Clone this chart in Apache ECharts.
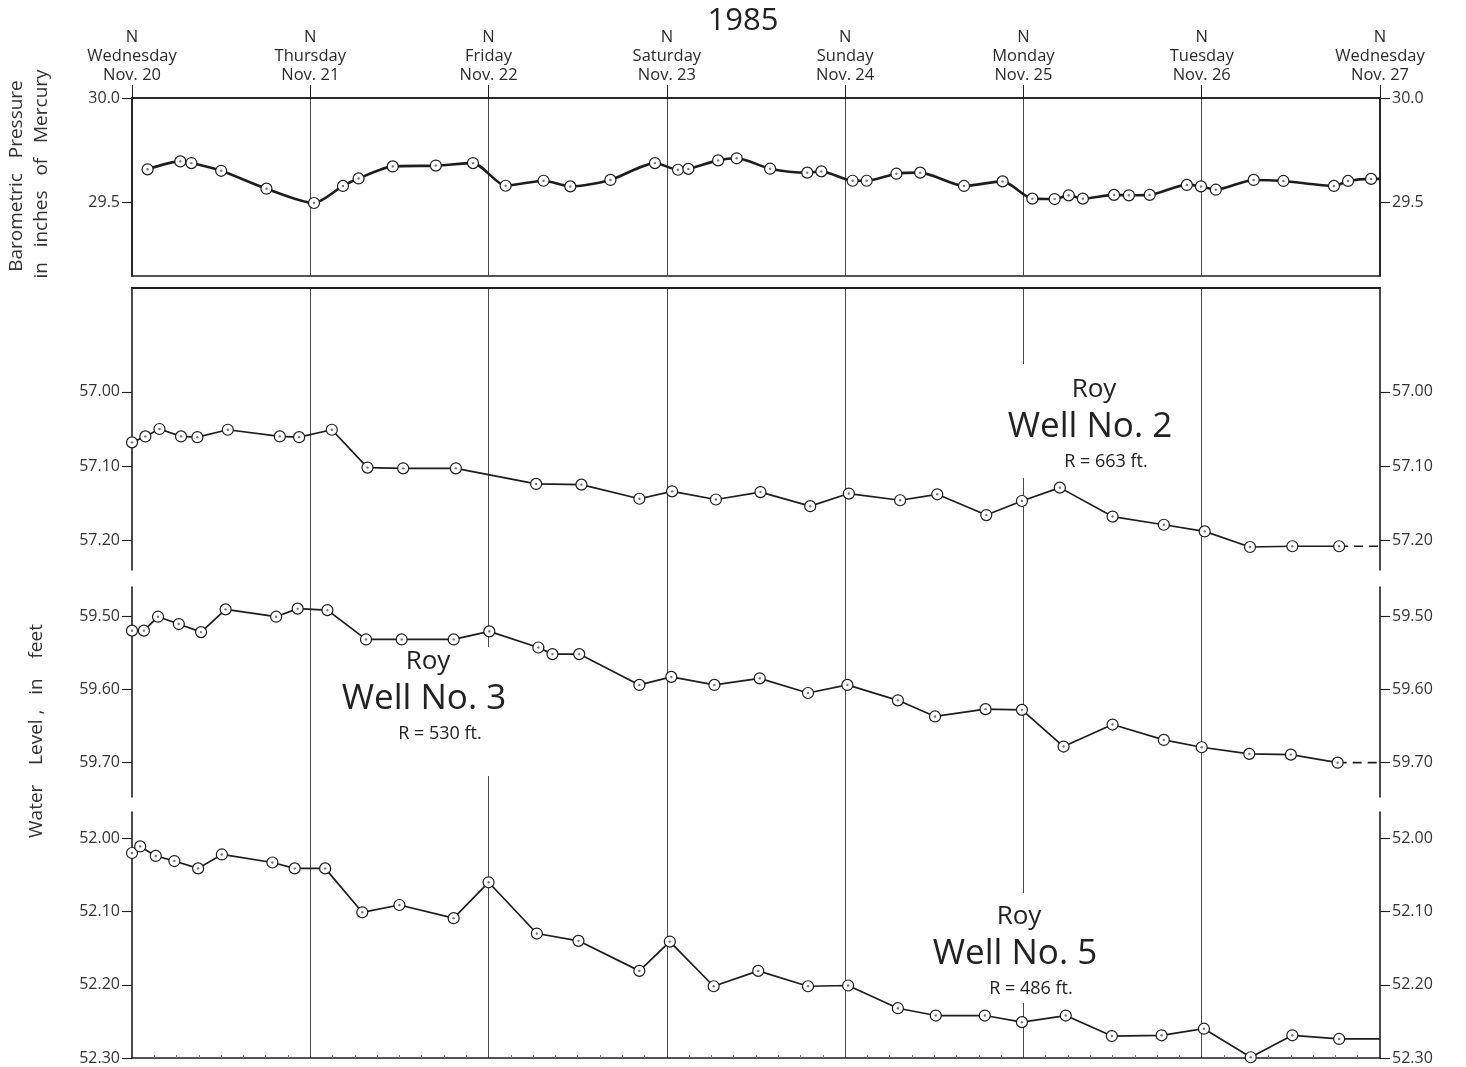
<!DOCTYPE html>
<html>
<head>
<meta charset="utf-8">
<script src="https://cdn.jsdelivr.net/npm/echarts@6/dist/echarts.min.js"></script>
<style>
  html, body { margin: 0; padding: 0; background: #fff; }
  #chart { width: 1466px; height: 1067px; }
</style>
</head>
<body>
<div id="chart"></div>
<script>
// Time is measured in hours after noon, Wednesday Nov. 20, 1985.
const dayNames = ['Wednesday', 'Thursday', 'Friday', 'Saturday', 'Sunday', 'Monday', 'Tuesday', 'Wednesday'];
const dayDates = ['Nov. 20', 'Nov. 21', 'Nov. 22', 'Nov. 23', 'Nov. 24', 'Nov. 25', 'Nov. 26', 'Nov. 27'];

// Barometric pressure, inches of mercury
const baroHours = [2.1, 6.5, 8.0, 12.0, 18.1, 24.5, 28.4, 30.5, 35.1, 40.9, 45.9, 50.3, 55.4, 59.0, 64.4,
  70.4, 73.5, 74.9, 78.9, 81.4, 85.9, 90.9, 92.8, 97.0, 98.9, 102.9, 106.1, 112.0, 117.2, 121.2, 124.2,
  126.1, 128.0, 132.2, 134.2, 137.0, 142.0, 143.9, 145.9, 151.0, 155.0, 161.8, 163.7, 166.8];
const baroValues = [29.657, 29.695, 29.687, 29.650, 29.564, 29.495, 29.577, 29.613, 29.671, 29.675, 29.687,
  29.578, 29.602, 29.575, 29.606, 29.687, 29.655, 29.659, 29.700, 29.710, 29.660, 29.641, 29.647, 29.602,
  29.602, 29.636, 29.641, 29.577, 29.599, 29.516, 29.514, 29.532, 29.516, 29.534, 29.532, 29.534, 29.582,
  29.575, 29.559, 29.606, 29.601, 29.577, 29.601, 29.611];
const baroTicks = [29.5, 30.0];

// Roy Well No. 2, depth to water in feet
const well2Hours = [0, 1.8, 3.7, 6.6, 8.8, 12.9, 19.9, 22.5, 26.9, 31.7, 36.5, 43.6, 54.4, 60.5, 68.3, 72.7,
  78.6, 84.6, 91.3, 96.5, 103.4, 108.4, 115.0, 119.8, 124.9, 132.0, 138.9, 144.4, 150.5, 156.2, 162.5];
const well2Values = [57.068, 57.060, 57.050, 57.060, 57.061, 57.051, 57.060, 57.061, 57.051, 57.102, 57.103,
  57.103, 57.124, 57.125, 57.144, 57.134, 57.145, 57.135, 57.154, 57.137, 57.146, 57.138, 57.166, 57.147,
  57.129, 57.168, 57.179, 57.188, 57.209, 57.208, 57.208];
const well2Ticks = [57.00, 57.10, 57.20];

// Roy Well No. 3
const well3Hours = [0, 1.6, 3.5, 6.3, 9.3, 12.6, 19.4, 22.3, 26.3, 31.5, 36.3, 43.3, 48.1, 54.7, 56.6, 60.2,
  68.3, 72.6, 78.4, 84.5, 91.0, 96.3, 103.1, 108.1, 114.9, 119.8, 125.4, 132.0, 138.9, 144.0, 150.4, 156.0, 162.3];
const well3Values = [59.520, 59.520, 59.501, 59.511, 59.522, 59.491, 59.501, 59.490, 59.492, 59.532, 59.532,
  59.532, 59.521, 59.543, 59.552, 59.552, 59.594, 59.583, 59.594, 59.585, 59.605, 59.594, 59.615, 59.637,
  59.627, 59.628, 59.678, 59.648, 59.669, 59.679, 59.688, 59.689, 59.700];
const well3Ticks = [59.50, 59.60, 59.70];

// Roy Well No. 5
const well5Hours = [0, 1.1, 3.2, 5.7, 8.9, 12.1, 18.9, 21.9, 26.0, 31.0, 36.0, 43.3, 48.0, 54.5, 60.1, 68.3,
  72.4, 78.3, 84.3, 91.0, 96.4, 103.1, 108.2, 114.8, 119.8, 125.7, 131.9, 138.6, 144.3, 150.6, 156.2, 162.5];
const well5Values = [52.020, 52.011, 52.024, 52.031, 52.041, 52.022, 52.033, 52.041, 52.041, 52.101, 52.091,
  52.109, 52.060, 52.130, 52.140, 52.181, 52.141, 52.202, 52.181, 52.202, 52.201, 52.232, 52.242, 52.242,
  52.251, 52.242, 52.270, 52.269, 52.260, 52.299, 52.269, 52.274];
const well5Ticks = [52.00, 52.10, 52.20, 52.30];

const END_HOUR = 168;
const FONT = '"Open Sans", "DejaVu Sans", sans-serif';
const INK = '#1d1d1d';
const GRID_INK = '#4a4a4a';
const PLOT_LEFT = 132, PLOT_RIGHT = 86;
const HOUR_PX = (1466 - PLOT_LEFT - PLOT_RIGHT) / END_HOUR;

const pairs = (hs, vs) => hs.map((h, i) => [h, vs[i]]);

const grids = [
  { left: PLOT_LEFT, right: PLOT_RIGHT, top: 98, height: 178, show: true, borderColor: INK, borderWidth: 1.6, backgroundColor: 'transparent' },
  { left: PLOT_LEFT, right: PLOT_RIGHT, top: 288, height: 282 },
  { left: PLOT_LEFT, right: PLOT_RIGHT, top: 587, height: 210 },
  { left: PLOT_LEFT, right: PLOT_RIGHT, top: 812, height: 246 },
  // day lines running through the three well panels
  { left: PLOT_LEFT + 24 * HOUR_PX, right: PLOT_RIGHT + 24 * HOUR_PX, top: 288, height: 770 }
];

function hiddenX(gi, extra) {
  return Object.assign({
    type: 'value', gridIndex: gi, min: 0, max: END_HOUR, interval: 24,
    axisLine: { show: false }, axisTick: { show: false }, axisLabel: { show: false },
    splitLine: { show: false }
  }, extra || {});
}

const xAxes = [
  {
    type: 'value', gridIndex: 0, position: 'top', min: 0, max: END_HOUR, interval: 24,
    axisLine: { show: true, lineStyle: { color: INK, width: 1.6 } },
    axisTick: { show: true, length: 13, lineStyle: { color: INK, width: 1 } },
    axisLabel: {
      show: true, margin: 13, showMinLabel: true, showMaxLabel: true, hideOverlap: false,
      fontFamily: FONT, fontSize: 16.5, color: '#2a2a2a', lineHeight: 19, align: 'center',
      formatter: v => { const i = Math.round(v / 24); return 'N\n' + dayNames[i] + '\n' + dayDates[i]; }
    },
    splitLine: { show: true, lineStyle: { color: GRID_INK, width: 1 } }
  },
  hiddenX(1, { position: 'top', axisLine: { show: true, lineStyle: { color: INK, width: 1.8 } } }),
  hiddenX(2),
  hiddenX(3, {
    position: 'bottom',
    axisLine: { show: true, lineStyle: { color: INK, width: 1.6 } },
    axisTick: { show: false, inside: true },
    minorTick: { show: true, splitNumber: 8, length: 3, lineStyle: { color: '#777', width: 1 } }
  }),
  {
    type: 'value', gridIndex: 4, min: 24, max: 144, interval: 24,
    axisLine: { show: false }, axisTick: { show: false }, axisLabel: { show: false },
    splitLine: { show: true, lineStyle: { color: GRID_INK, width: 1 } }
  }
];

function yAxisSide(gi, side, min, max, ticks, digits, inverse) {
  return {
    type: 'value', gridIndex: gi, position: side, min: min, max: max, inverse: inverse,
    axisLine: { show: true, onZero: false, lineStyle: { color: INK, width: 1.6 } },
    axisTick: { show: true, length: 10, customValues: ticks, lineStyle: { color: INK, width: 1.1 } },
    axisLabel: {
      show: true, customValues: ticks, margin: 12, fontFamily: FONT, fontSize: 16, color: '#333',
      formatter: v => v.toFixed(digits)
    },
    splitLine: { show: false }
  };
}

const yAxes = [
  yAxisSide(0, 'left', 29.144, 30.0, baroTicks, 1, false),
  yAxisSide(0, 'right', 29.144, 30.0, baroTicks, 1, false),
  yAxisSide(1, 'left', 56.86, 57.24, well2Ticks, 2, true),
  yAxisSide(1, 'right', 56.86, 57.24, well2Ticks, 2, true),
  yAxisSide(2, 'left', 59.4605, 59.7468, well3Ticks, 2, true),
  yAxisSide(2, 'right', 59.4605, 59.7468, well3Ticks, 2, true),
  yAxisSide(3, 'left', 51.964, 52.30, well5Ticks, 2, true),
  yAxisSide(3, 'right', 51.964, 52.30, well5Ticks, 2, true),
  { type: 'value', gridIndex: 4, min: 0, max: 1, show: false }
];

const markerStyle = { color: '#fff', borderColor: INK, borderWidth: 1.2 };

function observed(xi, yi, hs, vs, width, smooth, solidTail) {
  const data = pairs(hs, vs);
  if (solidTail) data.push({ value: [END_HOUR, vs[vs.length - 1]], symbol: 'none' });
  return [
    {
      type: 'line', xAxisIndex: xi, yAxisIndex: yi, data: data, smooth: smooth,
      symbol: 'circle', symbolSize: 11, showAllSymbol: true, clip: false,
      itemStyle: markerStyle, lineStyle: { color: INK, width: width },
      emphasis: { disabled: true }, silent: true, z: 5
    },
    {
      type: 'scatter', xAxisIndex: xi, yAxisIndex: yi, data: pairs(hs, vs),
      symbol: 'circle', symbolSize: 2.4, itemStyle: { color: '#555' }, silent: true, z: 6
    }
  ];
}

function dashedTail(xi, yi, hs, vs) {
  const last = vs[vs.length - 1];
  return {
    type: 'line', xAxisIndex: xi, yAxisIndex: yi,
    data: [[hs[hs.length - 1], last], [END_HOUR, last]],
    symbol: 'none', lineStyle: { color: INK, width: 1.6, type: [9, 6] }, silent: true, z: 4
  };
}

const series = [].concat(
  observed(0, 0, baroHours, baroValues, 2.6, 0.25, true),
  observed(1, 2, well2Hours, well2Values, 1.7, false, false),
  [dashedTail(1, 2, well2Hours, well2Values)],
  observed(2, 4, well3Hours, well3Values, 1.7, false, false),
  [dashedTail(2, 4, well3Hours, well3Values)],
  observed(3, 6, well5Hours, well5Values, 1.7, false, true)
);

function wellLabel(cx, top, boxW, boxH, textTop, no, radius) {
  return {
    type: 'group', z: 50,
    children: [
      { type: 'rect', shape: { x: cx - boxW / 2, y: top, width: boxW, height: boxH }, style: { fill: '#fff' }, z: 50 },
      { type: 'text', z: 51, style: { text: 'Roy', x: cx, y: textTop, font: '26px ' + FONT, fill: '#222', align: 'center', verticalAlign: 'middle' } },
      { type: 'text', z: 51, style: { text: 'Well No. ' + no, x: cx - 4, y: textTop + 37, font: '35px ' + FONT, fill: '#222', align: 'center', verticalAlign: 'middle' } },
      { type: 'text', z: 51, style: { text: 'R = ' + radius + ' ft.', x: cx + 12, y: textTop + 72, font: '18px ' + FONT, fill: '#222', align: 'center', verticalAlign: 'middle' } }
    ]
  };
}

const graphic = [
  { type: 'text', z: 60, style: { text: '1985', x: 743, y: 21, font: '31px ' + FONT, fill: '#222', align: 'center', verticalAlign: 'middle' } },
  { type: 'text', z: 60, x: 17, y: 176, rotation: Math.PI / 2,
    style: { text: 'Barometric   Pressure', x: 0, y: 0, font: '19px ' + FONT, fill: '#333', align: 'center', verticalAlign: 'middle' } },
  { type: 'text', z: 60, x: 42, y: 174, rotation: Math.PI / 2,
    style: { text: 'in   inches   of   Mercury', x: 0, y: 0, font: '19px ' + FONT, fill: '#333', align: 'center', verticalAlign: 'middle' } },
  { type: 'text', z: 60, x: 37, y: 731, rotation: Math.PI / 2,
    style: { text: 'Water    Level ,   in    feet', x: 0, y: 0, font: '19px ' + FONT, fill: '#333', align: 'center', verticalAlign: 'middle' } },
  wellLabel(1094, 364, 190, 114, 390, 2, 663),
  wellLabel(428, 647, 175, 129, 662, 3, 530),
  wellLabel(1019, 893, 180, 110, 917, 5, 486)
];

const chart = echarts.init(document.getElementById('chart'), null, { renderer: 'canvas' });
chart.setOption({
  backgroundColor: '#ffffff',
  animation: false,
  grid: grids,
  xAxis: xAxes,
  yAxis: yAxes,
  series: series,
  graphic: graphic
});
</script>
</body>
</html>
